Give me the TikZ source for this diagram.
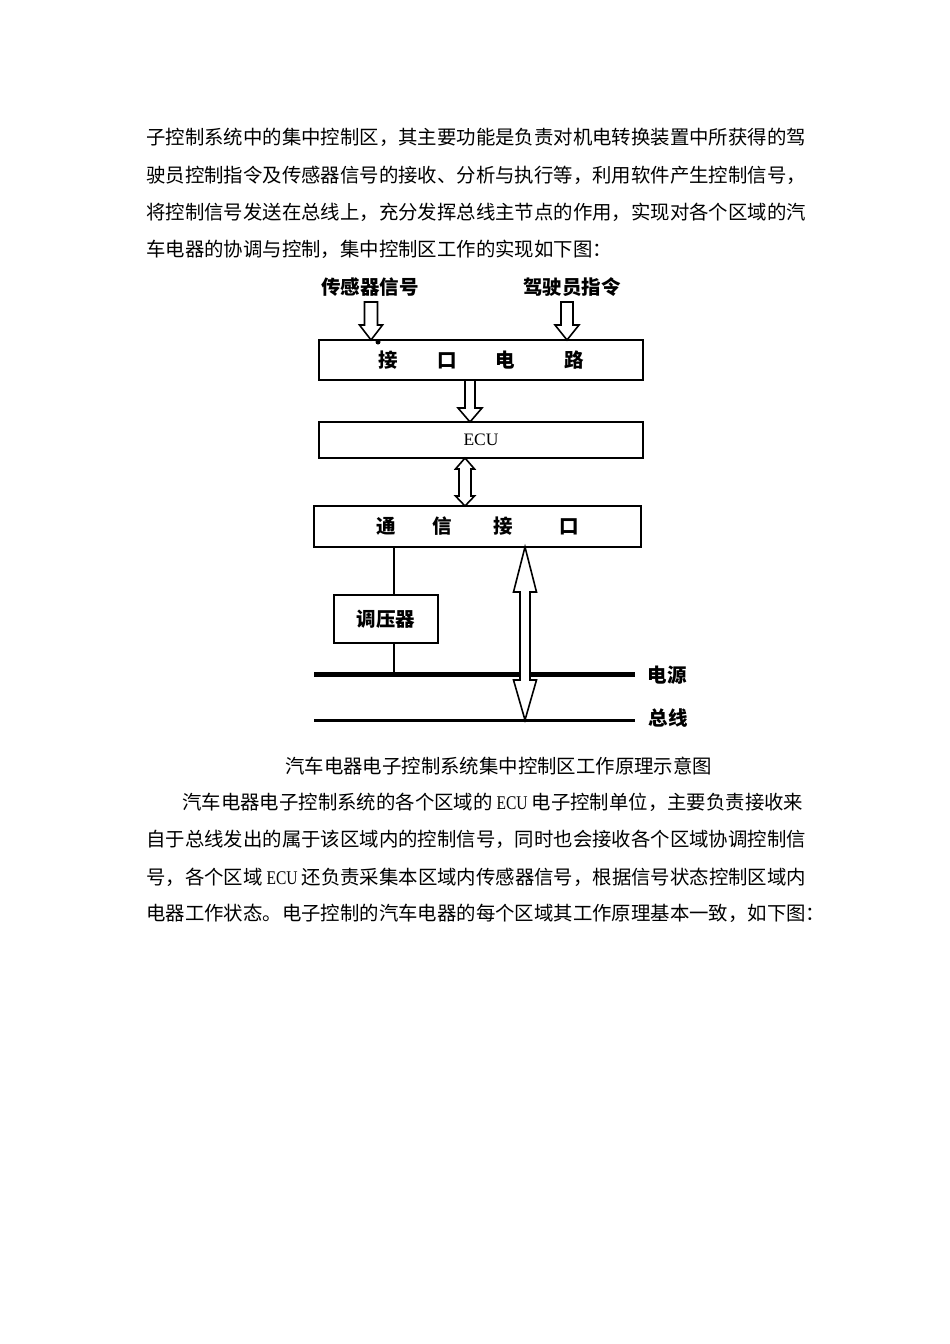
\documentclass[tikz,border=0pt]{standalone}
\usepackage{fontspec}
\usepackage{graphicx}
\newfontfamily\cjk{Noto Sans CJK SC}
\newfontfamily\ser{Liberation Serif}
\usetikzlibrary{calc}
\newcommand\ecuw{\hspace{4pt}{\ser\scalebox{0.8}[1]{ECU}}\hspace{4pt}}
% hollow down arrow: x, ytop, ybase, ytip, shaft half, head half
\newcommand\hdown[6]{%
  \filldraw[harrow] (#1-#5,#2) -- (#1+#5,#2) -- (#1+#5,#3) -- (#1+#6,#3) -- (#1,#4)
    -- (#1-#6,#3) -- (#1-#5,#3) -- cycle;}
% hollow double arrow: x, ytip top, ybase top, ybase bottom, ytip bottom, shaft half, head half
\newcommand\hdouble[7]{%
  \filldraw[harrow] (#1,#2) -- (#1+#7,#3) -- (#1+#6,#3) -- (#1+#6,#4) -- (#1+#7,#4) -- (#1,#5)
    -- (#1-#7,#4) -- (#1-#6,#4) -- (#1-#6,#3) -- (#1-#7,#3) -- cycle;}
\begin{document}
\begin{tikzpicture}[x=1pt,y=-1pt,
  body/.style={inner sep=0pt, anchor=west, font=\cjk\fontsize{19.4}{23}\selectfont},
  box/.style={draw, line width=1.8pt, inner sep=0pt, font=\cjk\bfseries\fontsize{19.5}{23}\selectfont},
  lab/.style={inner sep=0pt, font=\cjk\bfseries\fontsize{19.5}{23}\selectfont},
  harrow/.style={draw, fill=white, line width=1.6pt, line join=miter},
  wire/.style={line width=1.8pt}]
\useasboundingbox[fill=white] (0,0) rectangle (950,1344);

% paragraph 1
\node[body] (t1) at (146,137) {子控制系统中的集中控制区，其主要功能是负责对机电转换装置中所获得的驾};
\node[body] (t2) at (146,175) {驶员控制指令及传感器信号的接收、分析与执行等，利用软件产生控制信号，};
\node[body] (t3) at (146,212) {将控制信号发送在总线上，充分发挥总线主节点的作用，实现对各个区域的汽};
\node[body] (t4) at (146,249) {车电器的协调与控制，集中控制区工作的实现如下图：};

% diagram
\node[lab] (sens) at (370,287) {传感器信号};
\node[lab] (drv) at (572,287) {驾驶员指令};

\node[box, minimum width=324pt, minimum height=40pt] (ifc) at (481,360)
  {接\hspace{40pt}口\hspace{38pt}电\hspace{50pt}路\hspace{30pt}};
\node[box, minimum width=324pt, minimum height=36pt, font=\ser\fontsize{17.5}{20}\selectfont] (ecu) at (481,440)
  {ECU\hspace{22pt}};
\node[box, minimum width=327pt, minimum height=41pt] (comm) at (477.5,526.5)
  {通\hspace{37pt}信\hspace{41pt}接\hspace{47pt}口};
\node[box, minimum width=104pt, minimum height=48pt] (reg) at (386,619) {调压器};

\hdown{371}{302}{325}{340}{6.5}{11.5}
\hdown{567}{302}{325}{340}{6}{12}
\fill (378,342) circle (2.5pt);
\hdown{470}{380}{408}{422}{5}{12}
\hdouble{465}{458}{469}{496}{506}{6}{9.5}

\coordinate (pL) at (314,674);
\coordinate (pR) at (635,674);
\coordinate (bL) at (314,720);
\coordinate (bR) at (635,720);
\draw[line width=5pt] (pL) -- (pR);
\draw[line width=3pt] (bL) -- (bR);
\node[lab] (pwr) at (667,675) {电源};
\node[lab] (bus) at (668,718) {总线};

\draw[wire] ([xshift=8pt]reg.north |- comm.south) -- ([xshift=8pt]reg.north);
\draw[wire] ([xshift=8pt]reg.south) -- ([xshift=8pt]reg.south |- pL);

\hdouble{525}{547}{592}{680}{720}{5}{11.5}

% caption
\node[body] (cap) at (285,766) {汽车电器电子控制系统集中控制区工作原理示意图};

% paragraph 2
\node[body] (u1) at (182,802) {汽车电器电子控制系统的各个区域的\ecuw 电子控制单位，主要负责接收来};
\node[body] (u2) at (146,839) {自于总线发出的属于该区域内的控制信号，同时也会接收各个区域协调控制信};
\node[body] (u3) at (146,877) {号，各个区域\ecuw 还负责采集本区域内传感器信号，根据信号状态控制区域内};
\node[body] (u4) at (146,913) {电器工作状态。电子控制的汽车电器的每个区域其工作原理基本一致，如下图：};
\end{tikzpicture}
\end{document}
